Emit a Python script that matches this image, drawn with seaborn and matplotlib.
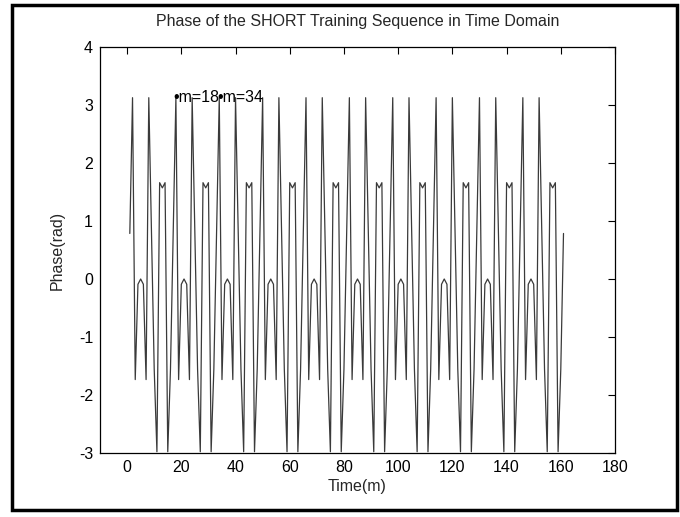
import matplotlib
matplotlib.use("Agg")
import matplotlib.pyplot as plt
import seaborn as sns
import pandas as pd
from matplotlib.patches import Rectangle

# Phase (rad) of the short training sequence, samples m = 1..161
m_values = list(range(1, 162))
phase = [
    0.785, 3.126, -1.734, -0.091, 0.000, -0.091, -1.734, 3.126, 0.785, -1.556, -2.978, 1.661, 1.571, 1.661, -2.978, -1.556,
    0.785, 3.126, -1.734, -0.091, 0.000, -0.091, -1.734, 3.126, 0.785, -1.556, -2.978, 1.661, 1.571, 1.661, -2.978, -1.556,
    0.785, 3.126, -1.734, -0.091, 0.000, -0.091, -1.734, 3.126, 0.785, -1.556, -2.978, 1.661, 1.571, 1.661, -2.978, -1.556,
    0.785, 3.126, -1.734, -0.091, 0.000, -0.091, -1.734, 3.126, 0.785, -1.556, -2.978, 1.661, 1.571, 1.661, -2.978, -1.556,
    0.785, 3.126, -1.734, -0.091, 0.000, -0.091, -1.734, 3.126, 0.785, -1.556, -2.978, 1.661, 1.571, 1.661, -2.978, -1.556,
    0.785, 3.126, -1.734, -0.091, 0.000, -0.091, -1.734, 3.126, 0.785, -1.556, -2.978, 1.661, 1.571, 1.661, -2.978, -1.556,
    0.785, 3.126, -1.734, -0.091, 0.000, -0.091, -1.734, 3.126, 0.785, -1.556, -2.978, 1.661, 1.571, 1.661, -2.978, -1.556,
    0.785, 3.126, -1.734, -0.091, 0.000, -0.091, -1.734, 3.126, 0.785, -1.556, -2.978, 1.661, 1.571, 1.661, -2.978, -1.556,
    0.785, 3.126, -1.734, -0.091, 0.000, -0.091, -1.734, 3.126, 0.785, -1.556, -2.978, 1.661, 1.571, 1.661, -2.978, -1.556,
    0.785, 3.126, -1.734, -0.091, 0.000, -0.091, -1.734, 3.126, 0.785, -1.556, -2.978, 1.661, 1.571, 1.661, -2.978, -1.556,
    0.785,
]

marked_m = [18, 34]
marked_labels = ["m=18", "m=34"]

x_ticks = [0, 20, 40, 60, 80, 100, 120, 140, 160, 180]
y_ticks = [-3, -2, -1, 0, 1, 2, 3, 4]

title_text = "Phase of the SHORT Training Sequence in Time Domain"
x_label = "Time(m)"
y_label = "Phase(rad)"

sns.set_style("white")
plt.rcParams["font.family"] = ["Liberation Sans", "DejaVu Sans"]
plt.rcParams["axes.unicode_minus"] = False

fig = plt.figure(figsize=(6.8, 5.17), dpi=100)
ax = fig.add_axes([100 / 680, (517 - 453) / 517, 515 / 680, 406 / 517])

df = pd.DataFrame({"m": m_values, "phase": phase})
sns.lineplot(data=df, x="m", y="phase", ax=ax, color="#3a3a3a", linewidth=0.9,
             estimator=None, sort=False)

for mm, lab in zip(marked_m, marked_labels):
    ax.text(mm - 0.8, phase[mm - 1], "\u2022" + lab, fontsize=11.5, va="center", ha="left",
            color="black")

ax.set_xlim(-10, 180)
ax.set_ylim(-3, 4)
ax.set_xticks(x_ticks)
ax.set_yticks(y_ticks)
ax.tick_params(direction="in", length=5, width=0.8, top=True, right=True,
               labelsize=11.5, colors="black", pad=5)
for s in ax.spines.values():
    s.set_visible(True)
    s.set_color("black")
    s.set_linewidth(0.9)

ax.set_title(title_text, fontsize=11.5, pad=15)
ax.set_xlabel(x_label, fontsize=11.5, labelpad=3)
ax.set_ylabel(y_label, fontsize=11.5, labelpad=10)

fig.patches.append(Rectangle((12 / 680, 7 / 517), 665 / 680, 505 / 517,
                             transform=fig.transFigure, fill=False,
                             edgecolor="black", linewidth=2.5))

fig.savefig("out.png", dpi=100)
